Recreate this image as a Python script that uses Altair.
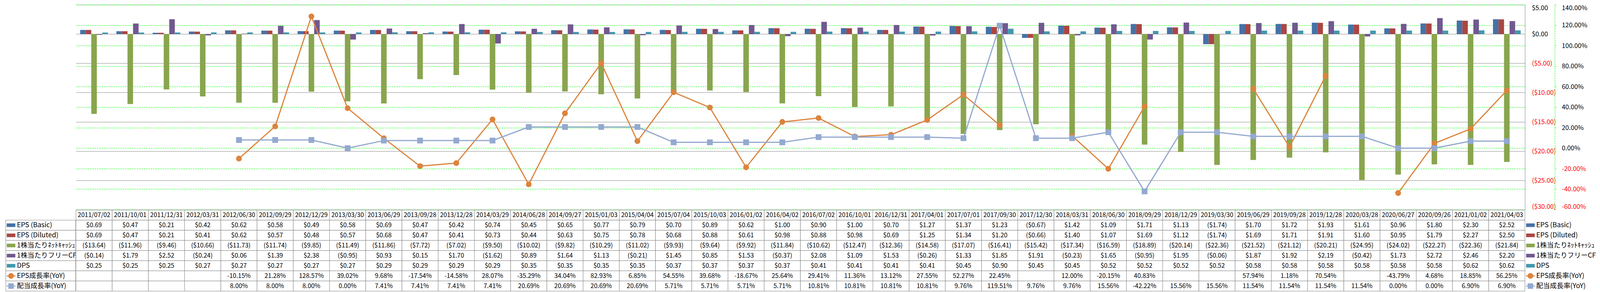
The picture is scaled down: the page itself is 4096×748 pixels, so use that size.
import altair as alt
import pandas as pd

S = 0.871

dates = ["2011/07/02", "2011/10/01", "2011/12/31", "2012/03/31", "2012/06/30", "2012/09/29",
         "2012/12/29", "2013/03/30", "2013/06/29", "2013/09/28", "2013/12/28", "2014/03/29",
         "2014/06/28", "2014/09/27", "2015/01/03", "2015/04/04", "2015/07/04", "2015/10/03",
         "2016/01/02", "2016/04/02", "2016/07/02", "2016/10/01", "2016/12/31", "2017/04/01",
         "2017/07/01", "2017/09/30", "2017/12/30", "2018/03/31", "2018/06/30", "2018/09/29",
         "2018/12/29", "2019/03/30", "2019/06/29", "2019/09/28", "2019/12/28", "2020/03/28",
         "2020/06/27", "2020/09/26", "2021/01/02", "2021/04/03"]

eps_basic = [0.69, 0.47, 0.21, 0.42, 0.62, 0.58, 0.49, 0.58, 0.69, 0.47, 0.42, 0.74,
             0.45, 0.65, 0.77, 0.79, 0.70, 0.89, 0.62, 1.00, 0.90, 1.00, 0.70, 1.27,
             1.37, 1.23, -0.67, 1.42, 1.09, 1.71, 1.13, -1.74, 1.70, 1.72, 1.93, 1.61,
             0.96, 1.80, 2.30, 2.52]
eps_diluted = [0.69, 0.47, 0.21, 0.41, 0.62, 0.57, 0.48, 0.57, 0.68, 0.47, 0.41, 0.73,
               0.44, 0.63, 0.75, 0.78, 0.68, 0.88, 0.61, 0.98, 0.88, 0.98, 0.69, 1.25,
               1.34, 1.20, -0.66, 1.40, 1.07, 1.69, 1.12, -1.74, 1.69, 1.71, 1.91, 1.60,
               0.95, 1.79, 2.27, 2.50]
net_cash = [-13.64, -11.96, -9.46, -10.66, -11.73, -11.74, -9.85, -11.49, -11.86, -7.72,
            -7.02, -9.50, -10.02, -9.82, -10.29, -11.02, -9.93, -9.64, -9.92, -11.84,
            -10.62, -12.47, -12.36, -14.58, -17.07, -16.41, -15.42, -17.34, -16.59, -18.89,
            -20.14, -22.36, -21.52, -21.12, -20.21, -24.95, -24.02, -22.27, -22.36, -21.84]
fcf = [-0.14, 1.79, 2.52, -0.24, 0.06, 1.39, 2.38, -0.95, 0.93, 0.15, 1.70, -1.62,
       0.89, 1.64, 1.13, -0.21, 1.45, 0.85, 1.53, -0.37, 2.08, 1.09, 1.53, -0.26,
       1.33, 1.85, 1.91, -0.23, 1.65, -0.95, 1.95, -0.06, 1.87, 1.92, 2.19, -0.42,
       1.73, 2.72, 2.46, 2.20]
dps = [0.25, 0.25, 0.25, 0.27, 0.27, 0.27, 0.27, 0.27, 0.29, 0.29, 0.29, 0.29,
       0.35, 0.35, 0.35, 0.35, 0.37, 0.37, 0.37, 0.37, 0.41, 0.41, 0.41, 0.41,
       0.45, 0.90, 0.45, 0.45, 0.52, 0.52, 0.52, 0.52, 0.58, 0.58, 0.58, 0.58,
       0.58, 0.58, 0.62, 0.62]
eps_growth = [None, None, None, None, -10.15, 21.28, 128.57, 39.02, 9.68, -17.54, -14.58, 28.07,
              -35.29, 34.04, 82.93, 6.85, 54.55, 39.68, -18.67, 25.64, 29.41, 11.36, 13.12, 27.55,
              52.27, 22.45, None, 12.00, -20.15, 40.83, None, None, 57.94, 1.18, 70.54, None,
              -43.79, 4.68, 18.85, 56.25]
div_growth = [None, None, None, None, 8.00, 8.00, 8.00, 0.00, 7.41, 7.41, 7.41, 7.41,
              20.69, 20.69, 20.69, 20.69, 5.71, 5.71, 5.71, 5.71, 10.81, 10.81, 10.81, 10.81,
              9.76, 119.51, 9.76, 9.76, 15.56, -42.22, 15.56, 15.56, 11.54, 11.54, 11.54, 11.54,
              0.00, 0.00, 6.90, 6.90]

BAR_SERIES = ["EPS (Basic)", "EPS (Diluted)", "1株当たりﾈｯﾄｷｬｯｼｭ", "1株当たりフリーCF", "DPS"]
LINE_SERIES = ["EPS成長率(YoY)", "配当成長率(YoY)"]
ALL_SERIES = BAR_SERIES + LINE_SERIES
COLORS = ["#4572A7", "#AA4643", "#89A54E", "#71588F", "#4198AF", "#DB843D", "#93A9CF"]
BAR_KEY = "M-1,-0.42H1V0.42H-1Z"
CIRCLE_KEY = ("M-1,-0.14H-0.68V0.14H-1Z M0.68,-0.14H1V0.14H0.68Z "
              "M-0.66,0A0.66,0.66 0 1,1 0.66,0A0.66,0.66 0 1,1 -0.66,0Z")
SQUARE_KEY = ("M-1,-0.14H-0.68V0.14H-1Z M0.68,-0.14H1V0.14H0.68Z "
              "M-0.64,-0.64H0.64V0.64H-0.64Z")
KEY_SHAPES = [BAR_KEY] * 5 + [CIRCLE_KEY, SQUARE_KEY]
HDR = "_hdr"
ROWS = [HDR] + ALL_SERIES

FONT = "Noto Sans CJK JP"
GRID = "#868686"
LIME = "#00FF00"

W_KEY = (223 - 17) * S
W_PLOT = (4491 - 223) * S
W_LEG = (4701 - 4491) * S
H_PLOT = (617 - 13) * S
H_TAB = (856 - 617) * S


def money(v):
    return f"${v:.2f}" if v >= 0 else f"(${-v:.2f})"


def pct(v):
    return "" if v is None else f"{v:.2f}%"


# ---------------- data tables ----------------
bar_rows = []
for name, arr in zip(BAR_SERIES, [eps_basic, eps_diluted, net_cash, fcf, dps]):
    for d, v in zip(dates, arr):
        bar_rows.append({"cat": d, "series": name, "value": v})
bar_df = pd.DataFrame(bar_rows)

eps_df = pd.DataFrame({"cat": dates, "pct": [float("nan") if v is None else v for v in eps_growth]})
div_df = pd.DataFrame({"cat": dates, "pct": [float("nan") if v is None else v for v in div_growth]})

cells = []
for i, d in enumerate(dates):
    cells.append({"cat": d, "row": HDR, "txt": d})
    for name, arr in zip(BAR_SERIES, [eps_basic, eps_diluted, net_cash, fcf, dps]):
        cells.append({"cat": d, "row": name, "txt": money(arr[i])})
    for name, arr in zip(LINE_SERIES, [eps_growth, div_growth]):
        cells.append({"cat": d, "row": name, "txt": pct(arr[i])})
tab_df = pd.DataFrame(cells)

keys_df = pd.DataFrame({"row": ALL_SERIES})

color_scale = alt.Scale(domain=ALL_SERIES, range=COLORS)
shape_scale = alt.Scale(domain=ALL_SERIES, range=KEY_SHAPES)
row_scale = alt.Scale(domain=ROWS, paddingInner=0, paddingOuter=0)

# ---------------- main plot ----------------
x_plot = alt.X("cat:N", scale=alt.Scale(domain=dates, paddingInner=0.235, paddingOuter=0.1175), axis=None)

usd_axis = alt.Axis(
    orient="right", values=[5, 0, -5, -10, -15, -20, -25, -30],
    labelExpr="datum.value < 0 ? '($' + format(-datum.value, '.2f') + ')' : '$' + format(datum.value, '.2f')",
    labelColor={"condition": {"test": "datum.value < 0", "value": "#FF0000"}, "value": "#000000"},
    labelAlign="left", labelPadding=17.4, labelFont=FONT, labelFontSize=16.5, labelFlush=True,
    ticks=False, domain=True, domainColor=GRID, domainWidth=1,
    grid=True, gridColor=GRID, gridWidth=1, title=None)

pct_axis = alt.Axis(
    orient="right", offset=(4579 - 4491) * S, values=[140, 120, 100, 80, 60, 40, 20, 0, -20, -40, -60],
    labelExpr="(datum.value < 0 ? '-' : '') + format(abs(datum.value), '.2f') + '%'",
    labelColor={"condition": {"test": "datum.value < 0", "value": "#FF0000"}, "value": "#000000"},
    labelAlign="left", labelPadding=13.9, labelFont=FONT, labelFontSize=16.5, labelFlush=True,
    ticks=True, tickSize=3.5, tickColor=LIME, tickWidth=1,
    domain=True, domainColor=LIME, domainDash=[4, 2], domainWidth=1,
    grid=True, gridColor=LIME, gridDash=[4, 2], gridWidth=1, title=None)

bars = alt.Chart(bar_df).mark_bar().encode(
    x=x_plot,
    xOffset=alt.XOffset("series:N", scale=alt.Scale(domain=BAR_SERIES, paddingInner=0, paddingOuter=0)),
    y=alt.Y("value:Q", scale=alt.Scale(domain=[-30, 5], nice=False, zero=False), axis=usd_axis),
    color=alt.Color("series:N", scale=color_scale, legend=None),
)

y_pct = alt.Y("pct:Q", scale=alt.Scale(domain=[-60, 140], nice=False, zero=False), axis=pct_axis)

eps_line = alt.Chart(eps_df).mark_line(
    color="#DB843D", strokeWidth=3, strokeJoin="round", invalid="break-paths-filter-domains"
).encode(x=x_plot, y=y_pct)
eps_pts = alt.Chart(eps_df).mark_point(
    color="#DB843D", filled=True, opacity=1, size=219, shape="circle", strokeWidth=0
).encode(x=x_plot, y=y_pct)
div_line = alt.Chart(div_df).mark_line(
    color="#93A9CF", strokeWidth=3, strokeJoin="round", invalid="break-paths-filter-domains"
).encode(x=x_plot, y=y_pct)
div_pts = alt.Chart(div_df).mark_point(
    color="#93A9CF", filled=True, opacity=1, size=219, shape="square", strokeWidth=0
).encode(x=x_plot, y=y_pct)

lines = alt.layer(eps_line, eps_pts, div_line, div_pts)
plot = alt.layer(bars, lines).resolve_scale(y="independent").properties(width=W_PLOT, height=H_PLOT)

# ---------------- data table ----------------
tx = alt.X("cat:N", scale=alt.Scale(domain=dates, paddingInner=0, paddingOuter=0), axis=None)
ty = alt.Y("row:N", scale=row_scale, axis=None)
table = alt.layer(
    alt.Chart(tab_df).mark_rect(fill="white", stroke=GRID, strokeWidth=1).encode(x=tx, y=ty),
    alt.Chart(tab_df).mark_text(font=FONT, fontSize=16, color="#000000").encode(x=tx, y=ty, text="txt:N"),
).properties(width=W_PLOT, height=H_TAB)


# ---------------- legend keys (row header and right legend) ----------------
def key_chart(width, with_cells):
    base = alt.Chart(keys_df)
    yk = alt.Y("row:N", scale=row_scale, axis=None)
    xk = alt.X("part:N", scale=alt.Scale(domain=["key", "label"], range=[13.5, 28.5], padding=0), axis=None)
    layers = []
    if with_cells:
        layers.append(base.mark_rect(fill="white", stroke=GRID, strokeWidth=1).encode(y=yk))
    layers.append(base.transform_calculate(part="'key'").mark_point(
        filled=True, opacity=1, size=484, strokeWidth=0).encode(
        x=xk, y=yk,
        color=alt.Color("row:N", scale=color_scale, legend=None),
        shape=alt.Shape("row:N", scale=shape_scale, legend=None)))
    layers.append(base.transform_calculate(part="'label'").mark_text(
        align="left", font=FONT, fontSize=17.5, color="#000000").encode(x=xk, y=yk, text="row:N"))
    return alt.layer(*layers).properties(width=width, height=H_TAB)


blank_df = pd.DataFrame({"t": [""]})


def blank(w, h):
    return alt.Chart(blank_df).mark_text().encode(text="t:N").properties(width=w, height=h)


chart = alt.concat(
    blank(W_KEY, H_PLOT), plot, blank(W_LEG, H_PLOT),
    key_chart(W_KEY, True), table, key_chart(W_LEG, False),
    columns=3, spacing=0, bounds="flush", align="each",
).resolve_scale(
    x="independent", y="independent"
).properties(
    padding={"left": 5.8, "top": 2.3, "right": 0, "bottom": 0},
    background="white",
).configure_view(stroke="transparent")

chart.save("out.html", embed_options={"renderer": "svg", "actions": False})
